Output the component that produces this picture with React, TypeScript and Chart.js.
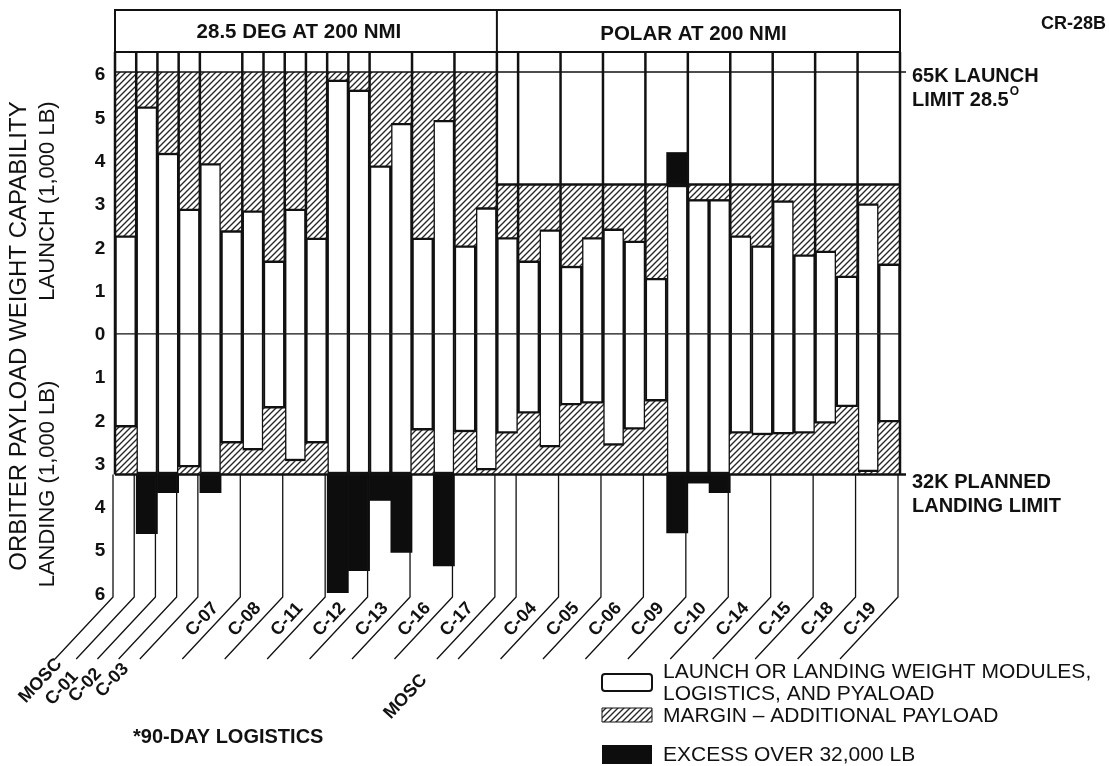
import React, { useEffect, useRef } from "react";
import { Chart, registerables } from "chart.js";

Chart.register(...registerables);

const CANVAS_W = 1109;
const CANVAS_H = 766;

// ---------------- data ----------------
const barKeys = [
  "MOSC", "C-01", "C-02", "C-03", "C-07 a", "C-07 b", "C-08 a", "C-08 b", "C-11 a", "C-11 b",
  "C-12 a", "C-12 b", "C-13 a", "C-13 b", "C-16 a", "C-16 b", "C-17 a", "C-17 b",
  "MOSC P", "C-04 a", "C-04 b", "C-05 a", "C-05 b", "C-06 a", "C-06 b", "C-09 a", "C-09 b",
  "C-10 a", "C-10 b", "C-14 a", "C-14 b", "C-15 a", "C-15 b", "C-18 a", "C-18 b", "C-19 a", "C-19 b",
];

const sectionTitles = ["28.5 DEG AT 200 NMI", "POLAR AT 200 NMI"];
const sectionBarCounts = [18, 19];
const sectionLaunchLimits = [6.05, 3.45]; // 1,000 LB scale units
const landingLimit = 3.25;

const launchWeights = [
  2.28, 5.26, 4.19, 2.9, 3.95, 2.4, 2.86, 1.7, 2.9, 2.23, 5.88, 5.65, 3.9, 4.88, 2.23, 4.95, 2.05, 2.93,
  2.24, 1.7, 2.42, 1.58, 2.24, 2.44, 2.16, 1.3, 4.19, 3.12, 3.12, 2.28, 2.05, 3.09, 1.84, 1.93, 1.35, 3.02, 1.63,
];
const landingWeights = [
  2.17, 4.62, 3.67, 3.09, 3.67, 2.54, 2.7, 1.73, 2.95, 2.54, 5.98, 5.47, 3.85, 5.05, 2.24, 5.36, 2.28, 3.16,
  2.31, 1.85, 2.63, 1.66, 1.62, 2.59, 2.22, 1.57, 4.6, 3.45, 3.67, 2.31, 2.35, 2.33, 2.31, 2.08, 1.7, 3.2, 2.05,
];

const missionLabels = [
  "MOSC", "C-01", "C-02", "C-03", "C-07", "C-08", "C-11", "C-12", "C-13", "C-16", "C-17",
  "MOSC", "C-04", "C-05", "C-06", "C-09", "C-10", "C-14", "C-15", "C-18", "C-19",
];
const missionLeaderEdge = [0, 1, 2, 3, 6, 8, 10, 12, 14, 16, 18, 18, 21, 23, 25, 27, 29, 31, 33, 35, 37];
const missionLabelAtFoot = [
  true, true, true, true, false, false, false, false, false, false, false,
  true, false, false, false, false, false, false, false, false, false,
];
const leaderEdges = [0, 1, 2, 3, 4, 6, 8, 10, 12, 14, 16, 18, 19, 21, 23, 25, 27, 29, 31, 33, 35, 37];
const dividerEdges = [0, 1, 2, 3, 4, 6, 7, 8, 9, 10, 11, 12, 14, 16, 18, 19, 21, 23, 25, 27, 29, 31, 33, 35, 37];
const yTicks = [6, 5, 4, 3, 2, 1, 0, -1, -2, -3, -4, -5, -6];

const legendLabels = [
  ["LAUNCH OR LANDING WEIGHT MODULES,", "LOGISTICS, AND PYALOAD"],
  ["MARGIN \u2013 ADDITIONAL PAYLOAD"],
  ["EXCESS OVER 32,000 LB"],
];

// ---------------- helpers ----------------
const FONT = '"Liberation Sans", Arial, Helvetica, sans-serif';
const INK = "#111";

function makeHatch(ctx: CanvasRenderingContext2D) {
  const p = 6;
  const c = document.createElement("canvas");
  c.width = p;
  c.height = p;
  const g = c.getContext("2d") as CanvasRenderingContext2D;
  g.fillStyle = "#fff";
  g.fillRect(0, 0, p, p);
  g.strokeStyle = "#262626";
  g.lineWidth = 1.35;
  g.beginPath();
  g.moveTo(0, p);
  g.lineTo(p, 0);
  g.moveTo(-p / 2, p / 2);
  g.lineTo(p / 2, -p / 2);
  g.moveTo(p / 2, p * 1.5);
  g.lineTo(p * 1.5, p / 2);
  g.stroke();
  return ctx.createPattern(c, "repeat");
}

function drawText(
  ctx: CanvasRenderingContext2D,
  s: string,
  x: number,
  y: number,
  size: number,
  weight: string,
  align: CanvasTextAlign = "left",
  rot = 0
) {
  ctx.save();
  ctx.translate(x, y);
  if (rot) ctx.rotate(rot);
  ctx.font = `${weight} ${size}px ${FONT}`;
  ctx.textAlign = align;
  ctx.textBaseline = "middle";
  ctx.fillStyle = INK;
  ctx.fillText(s, 0, 0);
  ctx.restore();
}

function line(ctx: CanvasRenderingContext2D, x1: number, y1: number, x2: number, y2: number, w: number) {
  ctx.beginPath();
  ctx.lineWidth = w;
  ctx.moveTo(x1, y1);
  ctx.lineTo(x2, y2);
  ctx.stroke();
}

export default function App() {
  const canvasRef = useRef<HTMLCanvasElement | null>(null);

  useEffect(() => {
    const canvas = canvasRef.current;
    if (!canvas) return;
    const ctx0 = canvas.getContext("2d") as CanvasRenderingContext2D;
    const hatch = makeHatch(ctx0);

    const nLeft = sectionBarCounts[0];
    const limitAt = (i: number) => (i < nLeft ? sectionLaunchLimits[0] : sectionLaunchLimits[1]);

    const launchBase = launchWeights.map((v, i) => [0, Math.min(v, limitAt(i))]);
    const launchMargin = launchWeights.map((v, i) => (v < limitAt(i) ? [v, limitAt(i)] : null));
    const launchExcess = launchWeights.map((v, i) => (v > limitAt(i) ? [limitAt(i), v] : null));
    const landBase = landingWeights.map((v) => [-Math.min(v, landingLimit), 0]);
    const landMargin = landingWeights.map((v) => (v < landingLimit ? [-landingLimit, -v] : null));
    const landExcess = landingWeights.map((v) => (v > landingLimit ? [-v, -landingLimit] : null));

    const decor = {
      id: "decor",
      beforeDraw(chart: any) {
        const c = chart.ctx as CanvasRenderingContext2D;
        c.save();
        c.fillStyle = "#fff";
        c.fillRect(0, 0, chart.width, chart.height);
        c.restore();
      },
      afterDatasetsDraw(chart: any) {
        const ctx = chart.ctx as CanvasRenderingContext2D;
        const xs = chart.scales.x;
        const ys = chart.scales.y;
        const step = xs.getPixelForValue(1) - xs.getPixelForValue(0);
        const edge = (k: number) => xs.getPixelForValue(0) + (k - 0.5) * step;
        const nAll = barKeys.length;
        const xL = edge(0);
        const xM = edge(nLeft);
        const xR = edge(nAll);
        const yTop = ys.getPixelForValue(sectionLaunchLimits[0]);
        const yRL = ys.getPixelForValue(sectionLaunchLimits[1]);
        const yZero = ys.getPixelForValue(0);
        const yLand = ys.getPixelForValue(-landingLimit);
        const yBot = chart.chartArea.bottom;
        const headTop = 10;
        const headBot = 52;
        const yBend = yBot - 3;
        const yFoot = yBot + 59;
        const dxFoot = 58;

        ctx.save();
        ctx.strokeStyle = INK;
        ctx.lineCap = "butt";

        // horizontal reference lines
        line(ctx, xL, yZero, xR, yZero, 1.2);
        line(ctx, xL, yTop, xR + 6, yTop, 1.6);
        line(ctx, xM, yRL, xR, yRL, 2.6);
        line(ctx, xL, yLand, xR + 6, yLand, 2.6);

        // header boxes
        ctx.lineWidth = 2;
        ctx.strokeRect(xL, headTop, xR - xL, headBot - headTop);
        line(ctx, xM, headTop, xM, headBot, 2);
        drawText(ctx, sectionTitles[0], (xL + xM) / 2 - 7, 32, 20.5, "bold", "center");
        drawText(ctx, sectionTitles[1], (xM + xR) / 2 - 5, 34, 20.5, "bold", "center");

        // column dividers
        dividerEdges.forEach((k) => {
          const x = edge(k);
          const bottom = k === 0 || k === nAll ? yLand : yZero;
          line(ctx, x, headBot, x, bottom, 2.5);
        });

        // leader lines
        ctx.lineJoin = "round";
        leaderEdges.forEach((k) => {
          const x = edge(k) - 2;
          ctx.beginPath();
          ctx.lineWidth = 1.3;
          ctx.moveTo(x, yLand);
          ctx.lineTo(x, yBend);
          ctx.lineTo(x - dxFoot, yFoot);
          ctx.stroke();
        });

        // mission labels
        const len = Math.hypot(dxFoot, yFoot - yBend);
        const dir = { x: dxFoot / len, y: -(yFoot - yBend) / len };
        const ang = Math.atan2(dir.y, dir.x);
        const perp = { x: dir.y, y: -dir.x }; // up-left
        const footNudge: Record<number, [number, number]> = {
          0: [4, 2],
          1: [-1, 15],
          2: [1, 12],
          3: [7, 7],
          11: [-13, 18],
        };
        missionLabels.forEach((lab, i) => {
          const x = edge(missionLeaderEdge[i]) - 2;
          if (missionLabelAtFoot[i]) {
            const n = footNudge[i] || [0, 0];
            drawText(ctx, lab, x - dxFoot + n[0], yFoot + n[1], 18, "bold", "right", ang);
          } else {
            const mx = x - dxFoot / 2;
            const my = (yBend + yFoot) / 2;
            const off = 12.5;
            drawText(ctx, lab, mx + perp.x * off, my + perp.y * off, 18, "bold", "center", ang);
          }
        });

        // y tick labels
        yTicks.forEach((v) => {
          drawText(ctx, String(Math.abs(v)), 100, ys.getPixelForValue(v) + 1, 19, "bold", "center");
        });

        // axis titles
        drawText(ctx, "ORBITER PAYLOAD WEIGHT CAPABILITY", 19, 336, 24, "normal", "center", -Math.PI / 2);
        drawText(ctx, "LAUNCH (1,000 LB)", 48, 201, 22, "normal", "center", -Math.PI / 2);
        drawText(ctx, "LANDING (1,000 LB)", 48, 484, 22, "normal", "center", -Math.PI / 2);

        // right annotations
        drawText(ctx, "CR-28B", 1106, 24, 18, "bold", "right");
        drawText(ctx, "65K LAUNCH", 912, 76, 20, "bold", "left");
        drawText(ctx, "LIMIT 28.5", 912, 100, 20, "bold", "left");
        ctx.save();
        ctx.font = `bold 20px ${FONT}`;
        const wLim = ctx.measureText("LIMIT 28.5").width;
        ctx.restore();
        drawText(ctx, "O", 912 + wLim + 1, 92, 12, "bold", "left");
        drawText(ctx, "32K PLANNED", 912, 482, 20, "bold", "left");
        drawText(ctx, "LANDING LIMIT", 912, 506, 20, "bold", "left");

        // footnote
        drawText(ctx, "*90-DAY LOGISTICS", 133, 737, 20, "bold", "left");

        // legend
        const lx = 602;
        const lw = 50;
        ctx.lineWidth = 2;
        ctx.beginPath();
        (ctx as any).roundRect ? (ctx as any).roundRect(lx, 674, lw, 17, 3) : ctx.rect(lx, 674, lw, 17);
        ctx.fillStyle = "#fff";
        ctx.fill();
        ctx.stroke();
        ctx.fillStyle = hatch as any;
        ctx.fillRect(lx, 708, lw, 14);
        ctx.lineWidth = 1;
        ctx.strokeRect(lx, 708, lw, 14);
        ctx.fillStyle = "#0d0d0d";
        ctx.fillRect(lx, 745, lw, 19);
        drawText(ctx, legendLabels[0][0], 663, 672, 21, "normal", "left");
        drawText(ctx, legendLabels[0][1], 663, 694, 21, "normal", "left");
        drawText(ctx, legendLabels[1][0], 663, 716, 21, "normal", "left");
        drawText(ctx, legendLabels[2][0], 663, 755, 21, "normal", "left");

        ctx.restore();
      },
    };

    const common = {
      grouped: false,
      categoryPercentage: 1,
      barPercentage: 1,
      borderSkipped: false,
    };

    const chart = new Chart(canvas, {
      type: "bar",
      data: {
        labels: barKeys,
        datasets: [
          { ...common, label: "Launch margin", data: launchMargin as any, backgroundColor: hatch as any, borderWidth: 0 },
          { ...common, label: "Landing margin", data: landMargin as any, backgroundColor: hatch as any, borderWidth: 0 },
          {
            ...common,
            label: "Launch weight",
            data: launchBase as any,
            backgroundColor: "#fff",
            borderColor: INK,
            borderWidth: { top: 3, left: 2, right: 2, bottom: 0 },
          },
          {
            ...common,
            label: "Landing weight",
            data: landBase as any,
            backgroundColor: "#fff",
            borderColor: INK,
            borderWidth: { top: 0, left: 2, right: 2, bottom: 3 },
          },
          { ...common, label: "Launch excess", data: launchExcess as any, backgroundColor: "#0d0d0d", borderWidth: 0 },
          { ...common, label: "Landing excess", data: landExcess as any, backgroundColor: "#0d0d0d", borderWidth: 0 },
        ] as any,
      },
      options: {
        responsive: false,
        maintainAspectRatio: false,
        animation: false,
        devicePixelRatio: 1,
        events: [],
        layout: { padding: { left: 115, right: CANVAS_W - 900, top: 72, bottom: CANVAS_H - 600 } },
        plugins: { legend: { display: false }, tooltip: { enabled: false } },
        scales: {
          x: { type: "category", display: false, offset: true, grid: { display: false } },
          y: { type: "linear", display: false, min: -6.15, max: 6.05 },
        },
      } as any,
      plugins: [decor as any],
    });

    return () => chart.destroy();
  }, []);

  return (
    <div style={{ position: "fixed", left: 0, top: 0, width: CANVAS_W, height: CANVAS_H, background: "#fff" }}>
      <canvas ref={canvasRef} width={CANVAS_W} height={CANVAS_H} style={{ display: "block", width: CANVAS_W, height: CANVAS_H }} />
    </div>
  );
}
